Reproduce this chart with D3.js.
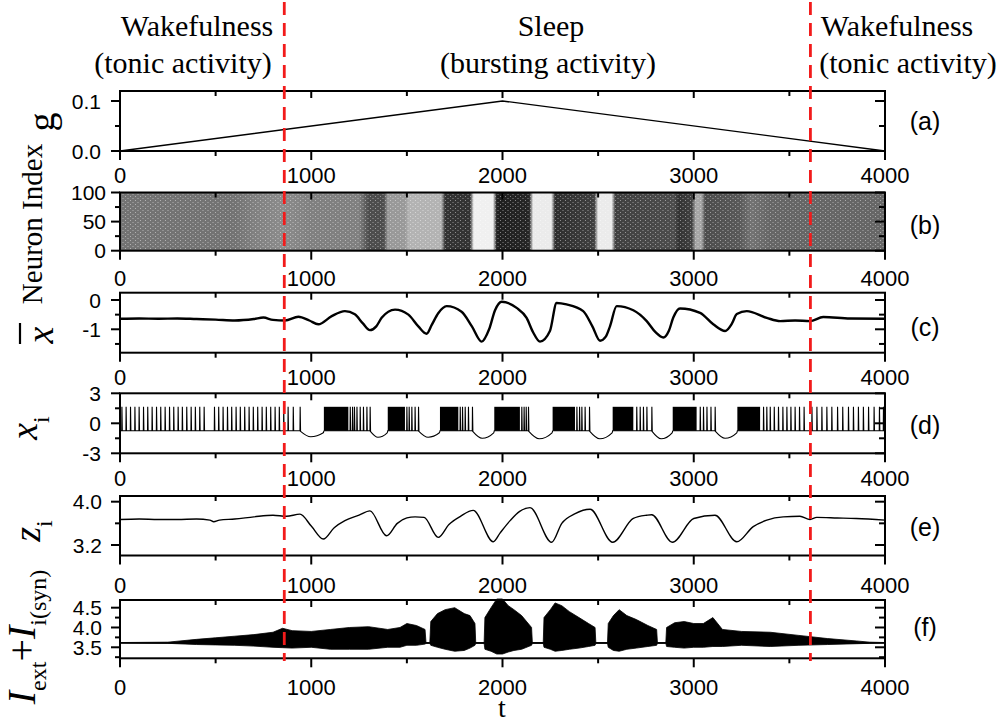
<!DOCTYPE html>
<html>
<head>
<meta charset="utf-8">
<script src="https://cdn.jsdelivr.net/npm/d3@7"></script>
<style>
body { margin: 0; background: #fff; }
svg text { font-family: "Liberation Sans", Arial, sans-serif; fill: #000; }
svg text.serif { font-family: "Liberation Serif", "Times New Roman", serif; }
</style>
</head>
<body>
<svg id="fig" width="1004" height="725"></svg>
<script>
// ---- data ----
var xMajor = [0, 1000, 2000, 3000, 4000];
var xMinor = [500, 1500, 2500, 3500];
var stateBounds = [859, 3610];   // red dashed lines (t)

// (a) coupling strength g
var gT = [0, 2000, 4000];
var gV = [0, 0.1, 0];

// (b) raster: spike density along t (0 = empty, 1 = solid)
var rasterT = [0, 600, 700, 850, 1000, 1250, 1300, 1380, 1400, 1490, 1510, 1680, 1700, 1830, 1850, 1950, 1970, 2140, 2160, 2255, 2275, 2480, 2500, 2570, 2590, 2900, 2920, 2990, 3010, 3040, 3060, 3240, 3300, 3400, 4000];
var rasterD = [0.55, 0.55, 0.5, 0.45, 0.5, 0.5, 0.7, 0.7, 0.4, 0.4, 0.3, 0.3, 0.8, 0.8, 0.06, 0.06, 0.88, 0.85, 0.08, 0.08, 0.82, 0.75, 0.08, 0.08, 0.75, 0.7, 0.8, 0.75, 0.35, 0.35, 0.7, 0.65, 0.55, 0.6, 0.6];

// (c) mean field x-bar
var xbarT = [0, 100, 200, 300, 400, 500, 600, 700, 750, 800, 863, 933, 990, 1037, 1107, 1176, 1228, 1270, 1307, 1340, 1368, 1438, 1508, 1560, 1603, 1630, 1664, 1708, 1786, 1840, 1891, 1930, 1961, 1996, 2074, 2126, 2160, 2196, 2248, 2283, 2335, 2422, 2470, 2510, 2540, 2562, 2597, 2684, 2754, 2800, 2841, 2870, 2893, 2928, 3033, 3102, 3164, 3200, 3225, 3277, 3382, 3452, 3530, 3608, 3677, 3817, 4000];
var xbarV = [-0.64, -0.63, -0.64, -0.63, -0.65, -0.67, -0.7, -0.65, -0.6, -0.68, -0.7, -0.57, -0.7, -0.83, -0.55, -0.38, -0.49, -0.8, -1.03, -0.9, -0.61, -0.33, -0.5, -0.9, -1.15, -0.85, -0.45, -0.21, -0.4, -0.9, -1.42, -1.0, -0.35, -0.06, -0.27, -0.61, -1.1, -1.42, -1.06, -0.1, -0.15, -0.38, -0.9, -1.39, -1.25, -0.9, -0.21, -0.35, -0.72, -1.1, -1.28, -1.05, -0.6, -0.29, -0.44, -0.83, -1.06, -0.8, -0.48, -0.38, -0.61, -0.72, -0.7, -0.72, -0.58, -0.63, -0.64];

// (d) single neuron x_i
var xiRest = -0.75, xiPeak = 1.65;
var tonicSpikes = [9, 31, 54, 77, 99, 122, 144, 167, 190, 212, 235, 258, 280, 303, 325, 348, 371, 393, 416, 439,
  493, 515, 538, 561, 583, 606, 628, 651, 674, 696, 719, 742, 764, 787, 810, 832, 855, 878, 905, 941,
  3364, 3381, 3399, 3420, 3442, 3465, 3486, 3507, 3529, 3552, 3576, 3617, 3643, 3669, 3695, 3721, 3751, 3778, 3808, 3834, 3860, 3886, 3913, 3942, 3970, 3991];
var burstOn      = [1066, 1400, 1673, 1957, 2262, 2576, 2890, 3228];
var burstDenseTo = [1194, 1490, 1769, 2091, 2379, 2684, 3015, 3347];
var burstTails = [
  [1203, 1215, 1225, 1238, 1255, 1272, 1290, 1307],
  [1499, 1511, 1525, 1542, 1560],
  [1778, 1790, 1804, 1821, 1842],
  [2100, 2112, 2123, 2135],
  [2388, 2402, 2414, 2431, 2454],
  [2701, 2719, 2736, 2754, 2780],
  [3033, 3050, 3068, 3089, 3111],
  []
];
var dipStart = [941, 1307, 1560, 1842, 2135, 2454, 2780, 3111];
var dipEnd   = [1066, 1400, 1673, 1957, 2262, 2576, 2890, 3228];
var dipMin   = [-1.35, -1.4, -1.4, -1.5, -1.55, -1.55, -1.55, -1.5];

// (e) slow variable z_i
var zT = [0, 100, 200, 300, 400, 470, 490, 520, 600, 700, 800, 870, 941, 1000, 1063, 1120, 1176, 1250, 1307, 1394, 1450, 1500, 1543, 1590, 1664, 1720, 1780, 1847, 1952, 1987, 2040, 2090, 2144, 2257, 2310, 2380, 2458, 2576, 2684, 2754, 2780, 2888, 3000, 3111, 3225, 3311, 3382, 3468, 3555, 3608, 3643, 3750, 3850, 4000];
var zV = [3.67, 3.68, 3.67, 3.67, 3.68, 3.66, 3.63, 3.66, 3.68, 3.72, 3.75, 3.73, 3.77, 3.55, 3.31, 3.52, 3.65, 3.75, 3.83, 3.37, 3.6, 3.7, 3.72, 3.71, 3.34, 3.58, 3.73, 3.84, 3.26, 3.42, 3.65, 3.82, 3.89, 3.25, 3.6, 3.78, 3.86, 3.25, 3.69, 3.75, 3.76, 3.25, 3.69, 3.75, 3.26, 3.54, 3.66, 3.72, 3.73, 3.67, 3.71, 3.7, 3.69, 3.66];

// (f) total input I_ext + I_syn : baseline and fluctuation envelope
var iBase = 3.61;
var iT     = [0, 250, 400, 500, 600, 700, 800, 850, 900, 1000, 1100, 1200, 1300, 1400, 1464, 1500, 1550, 1595, 1600, 1620, 1625, 1660, 1700, 1750, 1800, 1830, 1856, 1860, 1904, 1908, 1940, 1970, 2000, 2030, 2060, 2100, 2152, 2156, 2213, 2217, 2250, 2275, 2310, 2350, 2400, 2450, 2484, 2488, 2549, 2553, 2580, 2610, 2650, 2700, 2760, 2806, 2810, 2854, 2858, 2900, 2950, 3000, 3050, 3100, 3150, 3250, 3400, 3550, 3700, 3850, 3920, 4000];
var iUpper = [3.62, 3.63, 3.7, 3.74, 3.78, 3.82, 3.88, 3.98, 3.92, 3.9, 3.95, 4.0, 4.02, 3.95, 4.0, 4.1, 4.05, 3.95, 3.62, 3.62, 4.15, 4.35, 4.45, 4.5, 4.35, 4.3, 4.1, 3.62, 3.62, 4.25, 4.5, 4.72, 4.72, 4.55, 4.45, 4.3, 4.0, 3.62, 3.62, 4.25, 4.45, 4.62, 4.55, 4.4, 4.25, 4.1, 4.0, 3.62, 3.62, 4.1, 4.3, 4.45, 4.3, 4.2, 4.05, 3.95, 3.62, 3.62, 4.0, 4.12, 4.15, 4.1, 4.1, 4.25, 3.95, 3.9, 3.88, 3.8, 3.72, 3.66, 3.63, 3.62];
var iLower = [3.61, 3.6, 3.57, 3.56, 3.55, 3.53, 3.5, 3.49, 3.48, 3.5, 3.45, 3.45, 3.45, 3.5, 3.5, 3.55, 3.55, 3.58, 3.6, 3.6, 3.55, 3.5, 3.45, 3.4, 3.42, 3.48, 3.55, 3.6, 3.6, 3.45, 3.4, 3.33, 3.33, 3.38, 3.42, 3.45, 3.55, 3.6, 3.6, 3.5, 3.45, 3.4, 3.42, 3.45, 3.48, 3.52, 3.55, 3.6, 3.6, 3.5, 3.42, 3.4, 3.45, 3.48, 3.52, 3.55, 3.6, 3.6, 3.52, 3.5, 3.48, 3.5, 3.5, 3.52, 3.52, 3.55, 3.52, 3.55, 3.57, 3.59, 3.6, 3.61];

// ---- layout ----
var X0 = 120, X1 = 885;
var svg = d3.select("#fig");
var x = d3.scaleLinear().domain([0, 4000]).range([X0, X1]);

var panels = [
  { key: "a", top: 91,    bottom: 151,   dom: [0, 0.12],       major: [0, 0.1],        minor: [0.05],             dec: 1, xlab: 183, tag: "(a)", tagY: 121, lblEnd: 101 },
  { key: "b", top: 192.5, bottom: 250.7, dom: [0, 100],        major: [0, 50, 100],    minor: [25, 75],           dec: 0, xlab: 286, tag: "(b)", tagY: 225, lblEnd: 106 },
  { key: "c", top: 292.7, bottom: 352.7, dom: [-1.799, 0.249], major: [-1, 0],         minor: [-1.5, -0.5],       dec: 0, xlab: 385, tag: "(c)", tagY: 327, lblEnd: 101 },
  { key: "d", top: 393.3, bottom: 453.3, dom: [-3, 3],         major: [-3, 0, 3],      minor: [-1.5, 1.5],        dec: 0, xlab: 486, tag: "(d)", tagY: 425, lblEnd: 101 },
  { key: "e", top: 496,   bottom: 555.5, dom: [3.006, 4.105],  major: [3.2, 4.0],      minor: [3.6],              dec: 1, xlab: 593, tag: "(e)", tagY: 527, lblEnd: 102 },
  { key: "f", top: 600,   bottom: 658.3, dom: [3.222, 4.694],  major: [3.5, 4.0, 4.5], minor: [3.25, 3.75, 4.25], dec: 1, xlab: 695, tag: "(f)", tagY: 627, lblEnd: 102 }
];

var ys = {};
panels.forEach(function(p) {
  ys[p.key] = d3.scaleLinear().domain(p.dom).range([p.bottom, p.top]);
});

var defs = svg.append("defs");

// ---- data marks ----
// (a)
svg.append("path")
  .attr("d", d3.line().x(function(d, i) { return x(gT[i]); }).y(function(d) { return ys.a(d); })(gV))
  .attr("fill", "none").attr("stroke", "#000").attr("stroke-width", 1.3);

// (b) raster density as a gradient along t, with a fine speckle on top
var grad = defs.append("linearGradient").attr("id", "rasterGrad")
  .attr("gradientUnits", "userSpaceOnUse")
  .attr("x1", x(0)).attr("x2", x(4000)).attr("y1", 0).attr("y2", 0);
rasterD.forEach(function(dv, i) {
  var v = Math.round(255 * (1 - dv));
  grad.append("stop")
    .attr("offset", rasterT[i] / 4000)
    .attr("stop-color", "rgb(" + v + "," + v + "," + v + ")");
});
var pat = defs.append("pattern").attr("id", "speckle")
  .attr("patternUnits", "userSpaceOnUse").attr("width", 5).attr("height", 4);
pat.append("rect").attr("x", 0).attr("y", 0).attr("width", 1).attr("height", 1).attr("fill", "#fff");
pat.append("rect").attr("x", 2.5).attr("y", 2).attr("width", 1).attr("height", 1).attr("fill", "#fff");
svg.append("rect")
  .attr("x", x(0)).attr("width", x(4000) - x(0))
  .attr("y", ys.b(100)).attr("height", ys.b(0) - ys.b(100))
  .attr("fill", "url(#rasterGrad)");
svg.append("rect")
  .attr("x", x(0)).attr("width", x(4000) - x(0))
  .attr("y", ys.b(100)).attr("height", ys.b(0) - ys.b(100))
  .attr("fill", "url(#speckle)").attr("opacity", 0.45);

// (c)
svg.append("path")
  .attr("d", d3.line().curve(d3.curveMonotoneX)
    .x(function(d, i) { return x(xbarT[i]); }).y(function(d) { return ys.c(d); })(xbarV))
  .attr("fill", "none").attr("stroke", "#000").attr("stroke-width", 2.4);

// (d) spikes, burst blocks and hyperpolarised dips
var yd = ys.d;
var dipLine = d3.line().curve(d3.curveMonotoneX).x(function(d) { return x(d[0]); }).y(function(d) { return yd(d[1]); });
var events = [];
tonicSpikes.forEach(function(s) { events.push({ t: s, kind: "spike" }); });
burstTails.forEach(function(arr) { arr.forEach(function(s) { events.push({ t: s, kind: "spike" }); }); });
burstOn.forEach(function(s, i) { events.push({ t: s, kind: "block", end: burstDenseTo[i] }); });
dipStart.forEach(function(s, i) { events.push({ t: s + 0.01, kind: "dip", i: i }); });
events.sort(function(a, b) { return a.t - b.t; });

var dpath = "M" + x(0) + "," + yd(xiRest);
events.forEach(function(ev) {
  if (ev.kind === "spike") {
    dpath += "L" + x(ev.t) + "," + yd(xiRest) + "L" + x(ev.t + 1) + "," + yd(xiPeak) + "L" + x(ev.t + 3) + "," + yd(xiRest);
  } else if (ev.kind === "block") {
    dpath += "L" + x(ev.t) + "," + yd(xiRest) + "L" + x(ev.end) + "," + yd(xiRest);
  } else {
    var i = ev.i, s = dipStart[i], e = dipEnd[i];
    var pts = [[s, xiRest], [s + (e - s) * 0.45, dipMin[i]], [e - 3, xiRest - 0.2], [e, xiRest]];
    dpath += dipLine(pts).replace(/^M/, "L");
  }
});
dpath += "L" + x(4000) + "," + yd(xiRest);
svg.append("path").attr("d", dpath).attr("fill", "none").attr("stroke", "#000").attr("stroke-width", 1.1);

burstOn.forEach(function(s, i) {
  svg.append("rect")
    .attr("x", x(s)).attr("width", x(burstDenseTo[i]) - x(s))
    .attr("y", yd(xiPeak)).attr("height", yd(xiRest) - yd(xiPeak))
    .attr("fill", "#000");
});

// (e)
svg.append("path")
  .attr("d", d3.line().curve(d3.curveMonotoneX)
    .x(function(d, i) { return x(zT[i]); }).y(function(d) { return ys.e(d); })(zV))
  .attr("fill", "none").attr("stroke", "#000").attr("stroke-width", 1.4);

// (f)
svg.append("path")
  .attr("d", d3.area()
    .x(function(d, i) { return x(iT[i]); })
    .y0(function(d, i) { return ys.f(iLower[i]); })
    .y1(function(d) { return ys.f(d); })(iUpper))
  .attr("fill", "#000").attr("stroke", "#000").attr("stroke-width", 0.8);
svg.append("line")
  .attr("x1", x(0)).attr("x2", x(4000)).attr("y1", ys.f(iBase)).attr("y2", ys.f(iBase))
  .attr("stroke", "#000").attr("stroke-width", 1.5);

// ---- frames, ticks, tick labels ----
panels.forEach(function(p) {
  var y = ys[p.key];
  var g = svg.append("g");
  g.append("rect")
    .attr("x", X0).attr("y", p.top).attr("width", X1 - X0).attr("height", p.bottom - p.top)
    .attr("fill", "none").attr("stroke", "#000").attr("stroke-width", 2);

  function tick(x1, y1, x2, y2) {
    g.append("line").attr("x1", x1).attr("y1", y1).attr("x2", x2).attr("y2", y2)
      .attr("stroke", "#000").attr("stroke-width", 2);
  }
  xMajor.forEach(function(t) { tick(x(t), p.bottom, x(t), p.bottom + 9); tick(x(t), p.top, x(t), p.top + 7); });
  xMinor.forEach(function(t) { tick(x(t), p.bottom, x(t), p.bottom + 5); tick(x(t), p.top, x(t), p.top + 5); });
  p.major.forEach(function(v) { tick(X0 - 9, y(v), X0, y(v)); tick(X1 - 10, y(v), X1, y(v)); });
  p.minor.forEach(function(v) { tick(X0 - 5, y(v), X0, y(v)); tick(X1 - 6, y(v), X1, y(v)); });

  g.selectAll(".xl").data(xMajor).enter().append("text")
    .attr("x", function(d) { return x(d); }).attr("y", p.xlab)
    .attr("text-anchor", "middle").style("font-size", "22px")
    .text(function(d) { return d; });

  g.selectAll(".yl").data(p.major).enter().append("text")
    .attr("x", p.lblEnd).attr("y", function(d) { return y(d); }).attr("dy", "0.36em")
    .attr("text-anchor", "end").style("font-size", "21px")
    .text(function(d) { return d.toFixed(p.dec); });

  g.append("text")
    .attr("x", 925).attr("y", p.tagY).attr("dy", "0.36em")
    .attr("text-anchor", "middle").style("font-size", "25px")
    .text(p.tag);
});

// ---- axis titles ----
function vlabel(cx, cy, size) {
  return svg.append("text").attr("class", "serif")
    .attr("transform", "translate(" + cx + "," + cy + ") rotate(-90)")
    .attr("text-anchor", "middle").style("font-size", size + "px");
}
vlabel(54, 122, 38).text("g");
vlabel(42, 224, 29).text("Neuron Index");
vlabel(53, 335, 38).style("font-style", "italic").text("x");
svg.append("line").attr("x1", 20).attr("x2", 20).attr("y1", 323).attr("y2", 344)
  .attr("stroke", "#000").attr("stroke-width", 2.2);

var xi = vlabel(37, 428, 38);
xi.append("tspan").style("font-style", "italic").text("x");
xi.append("tspan").attr("dy", 12).style("font-size", "24px").text("i");

var zi = vlabel(40, 531, 38);
zi.append("tspan").style("font-style", "italic").text("z");
zi.append("tspan").attr("dy", 12).style("font-size", "24px").text("i");

var il = vlabel(35, 637, 40);
il.append("tspan").style("font-style", "italic").text("I");
il.append("tspan").attr("dy", 11).style("font-size", "24px").text("ext");
il.append("tspan").attr("dy", -11).text("+");
il.append("tspan").style("font-style", "italic").text("I");
il.append("tspan").attr("dy", 11).style("font-size", "24px").text("i(syn)");

svg.append("text").attr("class", "serif").attr("x", 502).attr("y", 717)
  .attr("text-anchor", "middle").style("font-size", "28px").text("t");

// ---- state headers ----
var headers = [
  { x: 197, y: 36, s: "Wakefulness" }, { x: 183, y: 73, s: "(tonic activity)" },
  { x: 551, y: 36, s: "Sleep" },       { x: 548, y: 73, s: "(bursting activity)" },
  { x: 897, y: 36, s: "Wakefulness" }, { x: 908, y: 73, s: "(tonic activity)" }
];
svg.selectAll(".hd").data(headers).enter().append("text").attr("class", "serif")
  .attr("x", function(d) { return d.x; }).attr("y", function(d) { return d.y; })
  .attr("text-anchor", "middle").style("font-size", "30px")
  .text(function(d) { return d.s; });

// ---- state boundaries ----
stateBounds.forEach(function(t) {
  svg.append("line")
    .attr("x1", x(t)).attr("x2", x(t)).attr("y1", 2).attr("y2", 661)
    .attr("stroke", "#f21b1b").attr("stroke-width", 2.8).attr("stroke-dasharray", "13,8");
});
</script>
</body>
</html>
